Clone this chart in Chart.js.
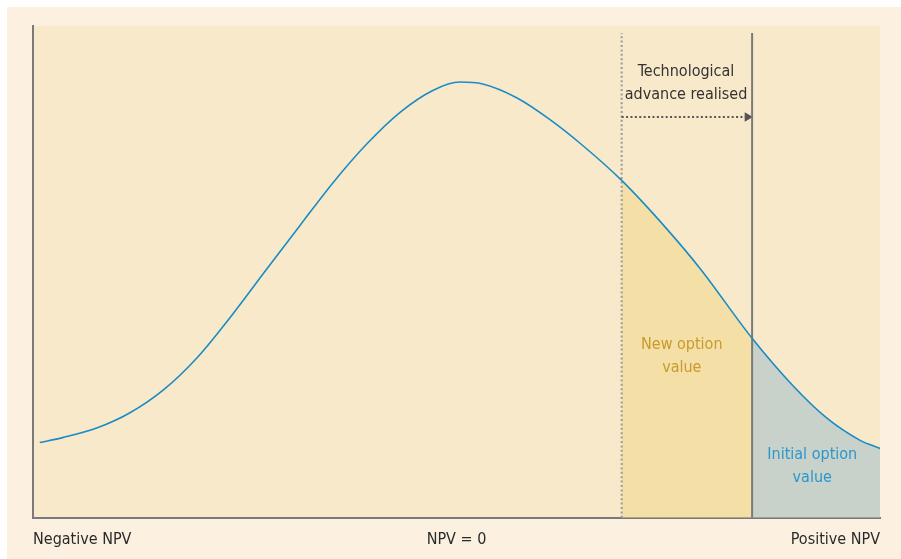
<!DOCTYPE html>
<html>
<head>
<meta charset="utf-8">
<script src="https://cdn.jsdelivr.net/npm/chart.js@4.4.1/dist/chart.umd.min.js"></script>
<style>
  html, body { margin: 0; padding: 0; background: #ffffff; }
  canvas { display: block; }
</style>
</head>
<body>
<canvas id="myChart" width="901" height="559"></canvas>
<script>
// NPV distribution curve (x: -50..50, y: 0..100)
var curveX = [-49.2, -46.5, -42.4, -38.6, -34.6, -30.6, -26.7, -22.4, -18.5, -14.6, -10.6, -6.7, -2.8, 0.4, 3.1, 7.1, 11.0, 14.9, 19.5, 24.9, 28.8, 34.9, 39.7, 43.7, 47.6, 50];
var curveY = [15.3, 16.3, 18.3, 21.3, 26.0, 32.6, 40.8, 50.6, 59.4, 68.1, 76.0, 82.4, 86.9, 88.6, 88.2, 85.4, 81.0, 75.7, 68.6, 58.6, 50.6, 36.5, 26.9, 20.3, 15.8, 14.1];

// where the thresholds sit on the NPV axis
var newThreshold = 19.5;      // after the technological advance
var initialThreshold = 34.9;  // before
var lineTop = 98.6;
var arrowLevel = 81.5;

var tickValues = [-50, 0, 50];
var tickLabels = ['Negative NPV', 'NPV = 0', 'Positive NPV'];

var fontFamily = "'Liberation Sans Narrow', 'DejaVu Sans Condensed', 'Liberation Sans', sans-serif";

var curve = curveX.map(function (x, i) { return { x: x, y: curveY[i] }; });

function slice(from, to) {
    return curve.filter(function (p) { return p.x >= from && p.x <= to; });
}

var newOption = slice(newThreshold, initialThreshold);
var initialOption = slice(initialThreshold, 50);

// text notes, placed in data units
var notes = [
    { lines: ['Technological', 'advance realised'], x: 27.1, y: 88.4, color: '#333333' },
    { lines: ['New option', 'value'], x: 26.6, y: 32.8, color: '#c99a2e' },
    { lines: ['Initial option', 'value'], x: 42.0, y: 10.4, color: '#2b97cc' }
];

var backgroundPlugin = {
    id: 'panel',
    beforeDraw: function (chart) {
        var ctx = chart.ctx;
        var area = chart.chartArea;
        ctx.save();
        ctx.fillStyle = '#ffffff';
        ctx.fillRect(0, 0, chart.width, chart.height);
        ctx.fillStyle = '#fcf1e1';
        ctx.fillRect(7, 7, chart.width - 7, chart.height - 7);
        ctx.fillStyle = '#f9e9cb';
        ctx.fillRect(area.left, area.top, area.right - area.left, area.bottom - area.top);
        ctx.restore();
    }
};

var notesPlugin = {
    id: 'notes',
    afterDatasetsDraw: function (chart) {
        var ctx = chart.ctx;
        var xs = chart.scales.x;
        var ys = chart.scales.y;
        ctx.save();
        ctx.font = '16px ' + fontFamily;
        ctx.textAlign = 'center';
        ctx.textBaseline = 'middle';
        notes.forEach(function (n) {
            var cx = xs.getPixelForValue(n.x);
            var cy = ys.getPixelForValue(n.y);
            ctx.fillStyle = n.color;
            n.lines.forEach(function (line, i) {
                ctx.fillText(line, cx, cy + (i - (n.lines.length - 1) / 2) * 23);
            });
        });
        ctx.restore();
    }
};

const ctx = document.getElementById('myChart');

new Chart(ctx, {
    type: 'line',
    data: {
        datasets: [{
            label: 'NPV distribution',
            data: curve,
            borderColor: '#1a8cc4',
            borderWidth: 1.6,
            pointRadius: 0,
            cubicInterpolationMode: 'monotone',
            fill: false
        }, {
            label: 'Initial threshold',
            data: [{ x: initialThreshold, y: 0 }, { x: initialThreshold, y: lineTop }],
            borderColor: '#7a7a7a',
            borderWidth: 2,
            pointRadius: 0,
            fill: false
        }, {
            label: 'Advance arrow',
            data: [{ x: newThreshold, y: arrowLevel }, { x: initialThreshold - 0.55, y: arrowLevel }],
            borderColor: '#555555',
            borderWidth: 2,
            borderDash: [2, 2.4],
            pointRadius: [0, 5.5],
            pointStyle: 'triangle',
            rotation: 90,
            pointBackgroundColor: '#555555',
            pointBorderWidth: 0,
            fill: false
        }, {
            label: 'New threshold',
            data: [{ x: newThreshold, y: 0 }, { x: newThreshold, y: lineTop }],
            borderColor: '#999999',
            borderWidth: 2,
            borderDash: [2, 2.4],
            pointRadius: 0,
            fill: false
        }, {
            label: 'Initial option value',
            data: initialOption,
            borderWidth: 0,
            pointRadius: 0,
            cubicInterpolationMode: 'monotone',
            backgroundColor: '#c8d1ca',
            fill: 'origin'
        }, {
            label: 'New option value',
            data: newOption,
            borderWidth: 0,
            pointRadius: 0,
            cubicInterpolationMode: 'monotone',
            backgroundColor: '#f4dfa6',
            fill: 'origin'
        }]
    },
    options: {
        responsive: false,
        animation: false,
        layout: { padding: { left: 33, right: 21, top: 26, bottom: -2 } },
        plugins: {
            legend: { display: false },
            tooltip: { enabled: false }
        },
        scales: {
            x: {
                type: 'linear',
                min: -50,
                max: 50,
                afterBuildTicks: function (axis) {
                    axis.ticks = tickValues.map(function (v) { return { value: v }; });
                },
                grid: { display: false, drawTicks: false },
                border: { display: true, color: '#7a7a7a', width: 2 },
                ticks: {
                    align: 'inner',
                    padding: 12,
                    maxRotation: 0,
                    autoSkip: false,
                    color: '#2a2a2a',
                    font: { family: fontFamily, size: 16 },
                    callback: function (value) {
                        return tickLabels[tickValues.indexOf(value)];
                    }
                }
            },
            y: {
                min: 0,
                max: 100,
                grid: { display: false, drawTicks: false },
                border: { display: true, color: '#7a7a7a', width: 2 },
                ticks: { display: false }
            }
        }
    },
    plugins: [backgroundPlugin, notesPlugin]
});
</script>
</body>
</html>
